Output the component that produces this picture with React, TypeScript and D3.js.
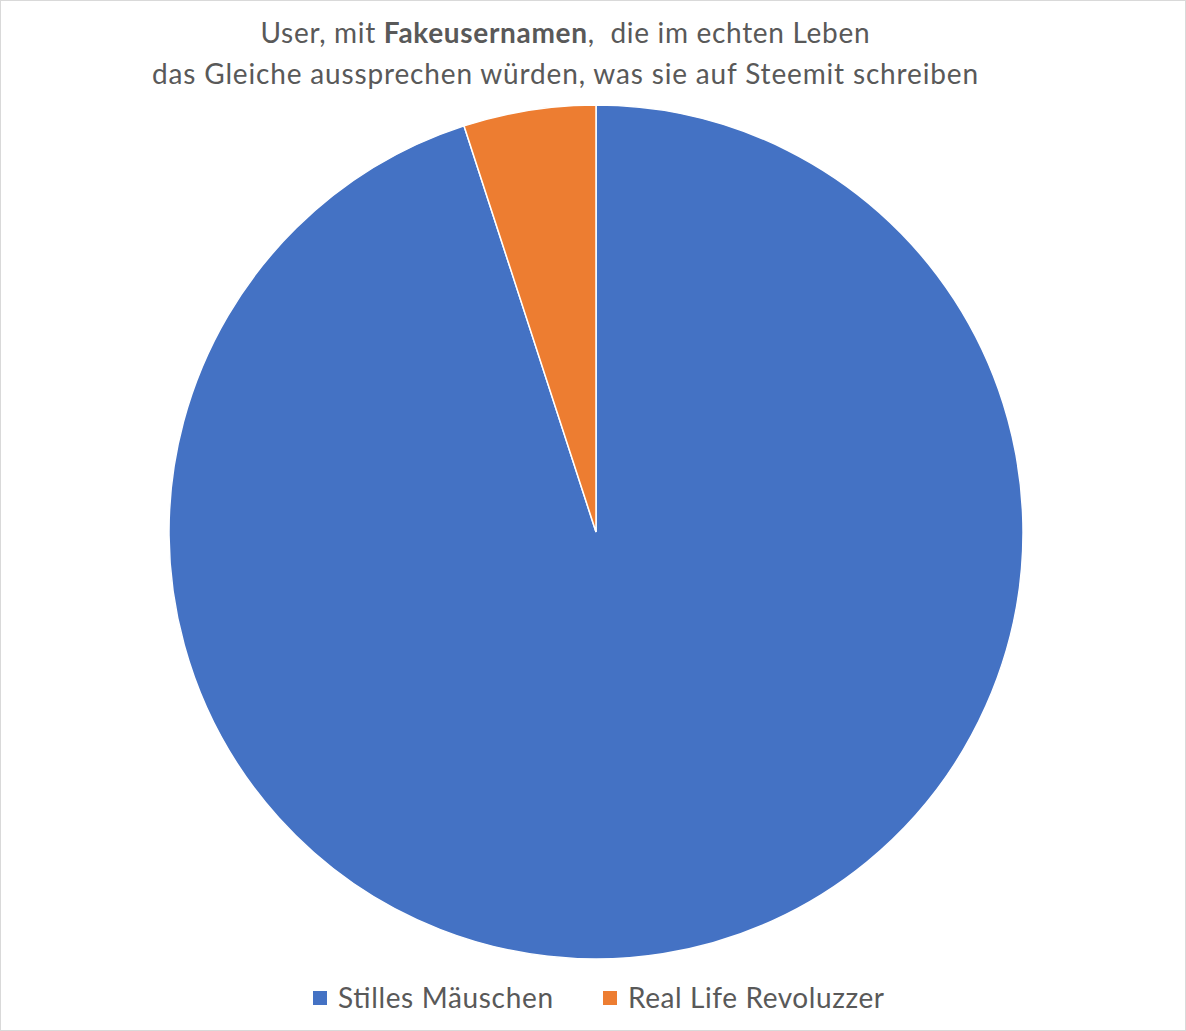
import * as d3 from 'd3';

const width = 1186;
const height = 1031;

const categories = ['Stilles Mäuschen', 'Real Life Revoluzzer'];
const values = [95, 5];
const colors = ['#4472C4', '#ED7D31'];

const center = { x: 596, y: 532 };
const radius = 427;
const font = 'Lato, "Open Sans", sans-serif';

const App = () => {
  const pie = d3
    .pie<number>()
    .sort(null)
    .startAngle(0)
    .endAngle(2 * Math.PI);
  const arcs = pie(values);
  const arc = d3.arc<d3.PieArcDatum<number>>().innerRadius(0).outerRadius(radius);

  const legendX = [313, 603];
  const legendW = [215, 256];

  return (
    <svg
      width={width}
      height={height}
      style={{ position: 'fixed', left: 0, top: 0, background: '#fff' }}
    >
      <rect x={0.5} y={0.5} width={width - 1} height={height - 1} fill="#fff" stroke="#d9d9d9" />
      <g fontFamily={font} fill="#595959" fontSize={28} textAnchor="middle">
        <text x={565} y={43} textLength={609} lengthAdjust="spacing">
          User, mit <tspan fontWeight="bold">Fakeusernamen</tspan>,{'\u00a0 '}die im echten Leben
        </text>
        <text x={565} y={84} textLength={826} lengthAdjust="spacing">
          das Gleiche aussprechen würden, was sie auf Steemit schreiben
        </text>
      </g>
      <g transform={`translate(${center.x},${center.y})`}>
        {arcs.map((a, i) => (
          <path key={i} d={arc(a) ?? ''} fill={colors[i]} stroke="#fff" strokeWidth={1.5} />
        ))}
      </g>
      <g fontFamily={font} fontSize={28} fill="#595959">
        {categories.map((c, i) => (
          <g key={c}>
            <rect x={legendX[i]} y={991} width={14} height={14} fill={colors[i]} />
            <text x={legendX[i] + 25} y={1008} textLength={legendW[i]} lengthAdjust="spacing">
              {c}
            </text>
          </g>
        ))}
      </g>
    </svg>
  );
};

export default App;
